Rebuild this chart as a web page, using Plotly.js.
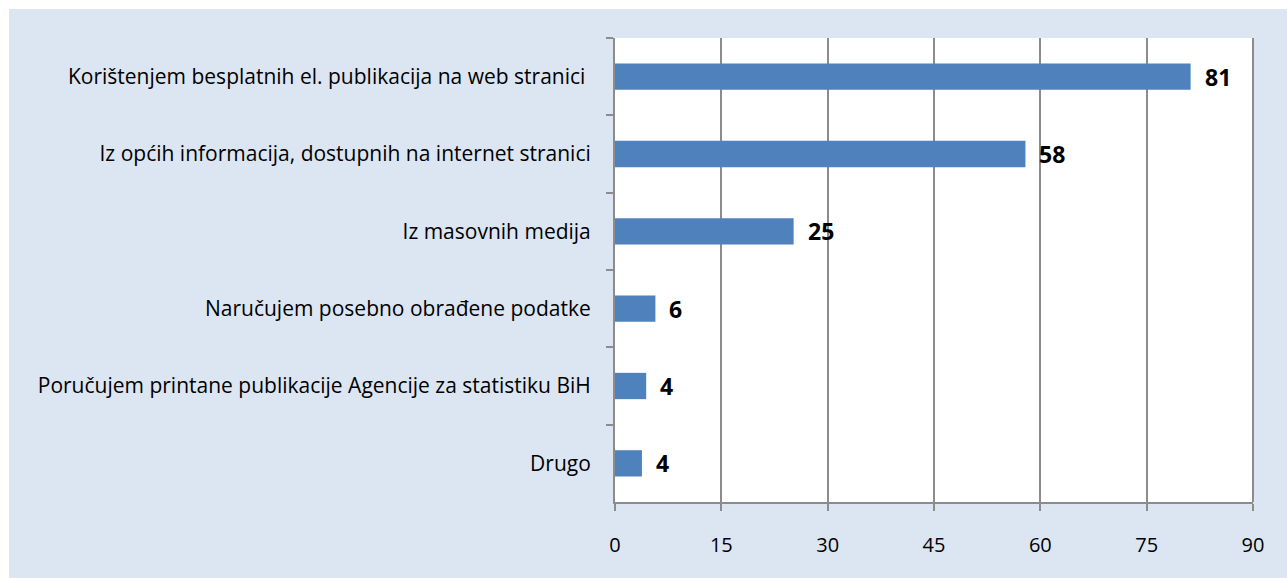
<!DOCTYPE html>
<html>
<head>
<meta charset="utf-8">
<script src="https://cdn.plot.ly/plotly-3.0.1.min.js"></script>
<style>
html,body{margin:0;padding:0;background:#ffffff;}
#chart{position:absolute;left:9px;top:9px;width:1278px;height:569px;}
</style>
</head>
<body>
<div id="chart"></div>
<script>
const categories = [
  "Korištenjem besplatnih el. publikacija na web stranici ",
  "Iz općih informacija, dostupnih na internet stranici",
  "Iz masovnih medija",
  "Naručujem posebno obrađene podatke",
  "Poručujem printane publikacije Agencije za statistiku BiH",
  "Drugo"
];
const values = [81.2, 57.9, 25.2, 5.7, 4.4, 3.8];
const valueLabels = ["81", "58", "25", "6", "4", "4"];
const xTicks = [0, 15, 30, 45, 60, 75, 90];

const FONT = "Open Sans, Noto Sans, sans-serif";

const trace = {
  type: "bar",
  orientation: "h",
  y: categories,
  x: values,
  marker: {color: "#4f81bd"},
  hoverinfo: "skip"
};

const annotations = categories.map((c, i) => ({
  x: values[i], y: c, xref: "x", yref: "y",
  text: "<b>" + valueLabels[i] + "</b>",
  showarrow: false, xanchor: "left", yanchor: "middle",
  xshift: 12,
  font: {family: FONT, size: 23, color: "#000000"}
}));

const layout = {
  width: 1278, height: 569,
  paper_bgcolor: "#dce6f2",
  plot_bgcolor: "#ffffff",
  margin: {l: 606, r: 34, t: 29, b: 76},
  bargap: 0.66,
  showlegend: false,
  font: {family: FONT, size: 21, color: "#000000"},
  xaxis: {
    range: [0, 90],
    tickvals: xTicks,
    ticktext: xTicks.map(String),
    showgrid: true, gridcolor: "#8c8c8c", gridwidth: 2,
    zeroline: false,
    showline: true, linecolor: "#8c8c8c", linewidth: 2,
    ticks: "outside", ticklen: 7, tickcolor: "#8c8c8c", tickwidth: 2,
    ticklabelstandoff: 17,
    tickfont: {family: FONT, size: 20, color: "#000000"},
    mirror: false,
    fixedrange: true
  },
  yaxis: {
    type: "category",
    autorange: "reversed",
    tickson: "boundaries",
    ticks: "outside", ticklen: 7, tickcolor: "#8c8c8c", tickwidth: 2,
    showgrid: false, zeroline: false,
    showline: true, linecolor: "#8c8c8c", linewidth: 2,
    ticklabelstandoff: 18,
    tickfont: {family: FONT, size: 21, color: "#000000"},
    fixedrange: true
  },
  shapes: [{
    type: "line", xref: "paper", yref: "paper",
    x0: 1, x1: 1, y0: 0, y1: 1,
    line: {color: "#8c8c8c", width: 2}
  }],
  annotations: annotations
};

Plotly.newPlot("chart", [trace], layout, {displayModeBar: false, staticPlot: true});
</script>
</body>
</html>
